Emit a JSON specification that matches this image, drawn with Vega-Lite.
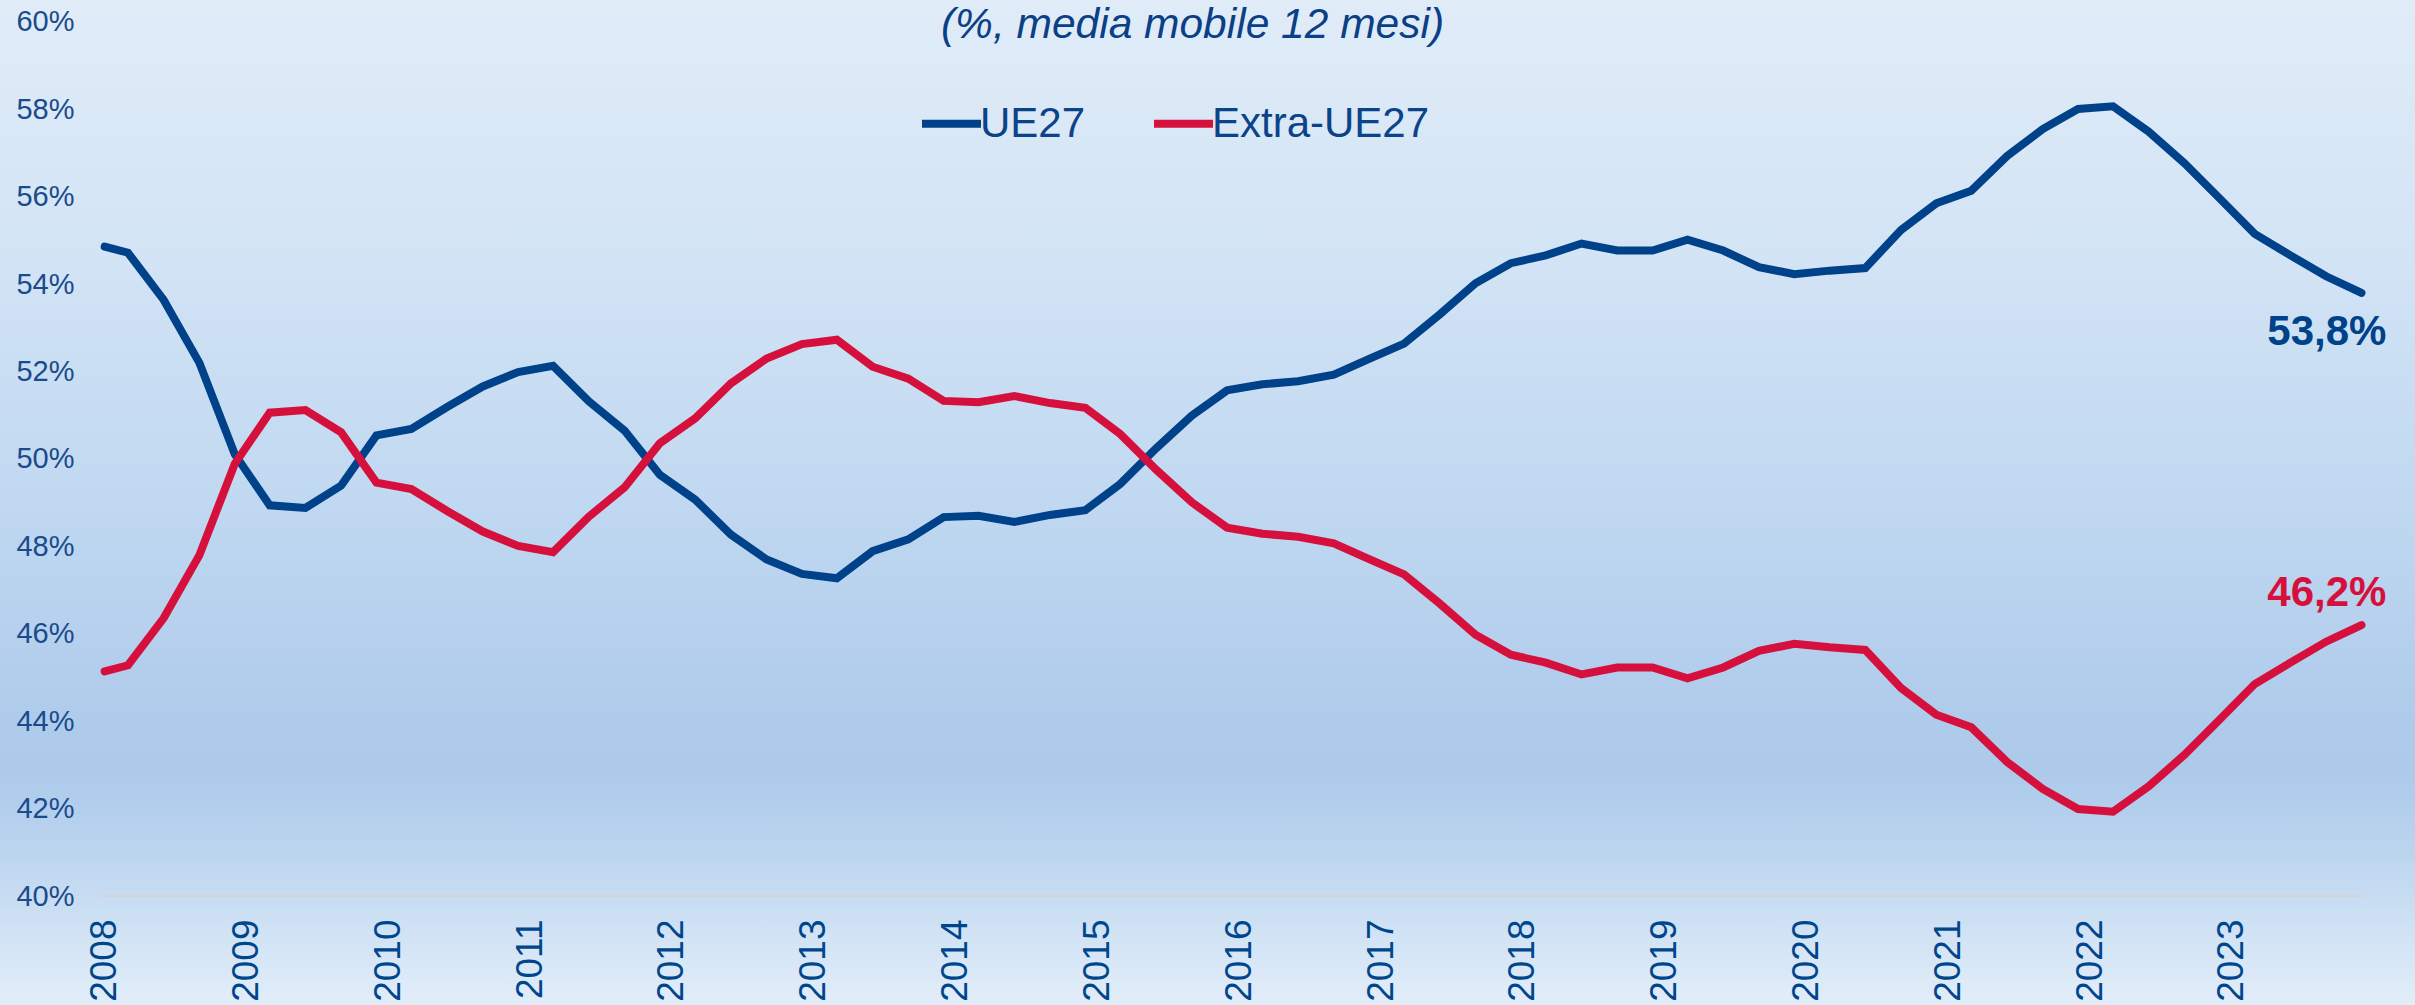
{
  "$schema": "https://vega.github.io/schema/vega-lite/v6.json",
  "width": 2415,
  "height": 1005,
  "autosize": "none",
  "padding": 0,
  "background": "#dce9f7",
  "config": {
    "view": {"stroke": null},
    "axis": {"grid": false, "domain": false, "ticks": false, "tickSize": 0, "zindex": 1},
    "font": "Liberation Sans"
  },
  "title": {
    "text": "(%, media mobile 12 mesi)",
    "orient": "top",
    "anchor": "middle",
    "frame": "group",
    "offset": -40,
    "baseline": "top",
    "dx": -15,
    "dy": 6,
    "font": "Liberation Sans",
    "fontSize": 42.5,
    "fontStyle": "italic",
    "fontWeight": "normal",
    "color": "#0b3f86"
  },
  "datasets": {
    "series": [
      {"date": "2008-01-01", "serie": "UE27", "valore": 54.86},
      {"date": "2008-03-01", "serie": "UE27", "valore": 54.72},
      {"date": "2008-06-01", "serie": "UE27", "valore": 53.64},
      {"date": "2008-09-01", "serie": "UE27", "valore": 52.20},
      {"date": "2008-12-01", "serie": "UE27", "valore": 50.11},
      {"date": "2009-03-01", "serie": "UE27", "valore": 48.94},
      {"date": "2009-06-01", "serie": "UE27", "valore": 48.88},
      {"date": "2009-09-01", "serie": "UE27", "valore": 49.39},
      {"date": "2009-12-01", "serie": "UE27", "valore": 50.54},
      {"date": "2010-03-01", "serie": "UE27", "valore": 50.69},
      {"date": "2010-06-01", "serie": "UE27", "valore": 51.19},
      {"date": "2010-09-01", "serie": "UE27", "valore": 51.66},
      {"date": "2010-12-01", "serie": "UE27", "valore": 51.99},
      {"date": "2011-03-01", "serie": "UE27", "valore": 52.13},
      {"date": "2011-06-01", "serie": "UE27", "valore": 51.32},
      {"date": "2011-09-01", "serie": "UE27", "valore": 50.65},
      {"date": "2011-12-01", "serie": "UE27", "valore": 49.64},
      {"date": "2012-03-01", "serie": "UE27", "valore": 49.07},
      {"date": "2012-06-01", "serie": "UE27", "valore": 48.27},
      {"date": "2012-09-01", "serie": "UE27", "valore": 47.70},
      {"date": "2012-12-01", "serie": "UE27", "valore": 47.37},
      {"date": "2013-03-01", "serie": "UE27", "valore": 47.27},
      {"date": "2013-06-01", "serie": "UE27", "valore": 47.89},
      {"date": "2013-09-01", "serie": "UE27", "valore": 48.16},
      {"date": "2013-12-01", "serie": "UE27", "valore": 48.67},
      {"date": "2014-03-01", "serie": "UE27", "valore": 48.70},
      {"date": "2014-06-01", "serie": "UE27", "valore": 48.56},
      {"date": "2014-09-01", "serie": "UE27", "valore": 48.72},
      {"date": "2014-12-01", "serie": "UE27", "valore": 48.83},
      {"date": "2015-03-01", "serie": "UE27", "valore": 49.43},
      {"date": "2015-06-01", "serie": "UE27", "valore": 50.24},
      {"date": "2015-09-01", "serie": "UE27", "valore": 50.99},
      {"date": "2015-12-01", "serie": "UE27", "valore": 51.57},
      {"date": "2016-03-01", "serie": "UE27", "valore": 51.71},
      {"date": "2016-06-01", "serie": "UE27", "valore": 51.78},
      {"date": "2016-09-01", "serie": "UE27", "valore": 51.93},
      {"date": "2016-12-01", "serie": "UE27", "valore": 52.29},
      {"date": "2017-03-01", "serie": "UE27", "valore": 52.64},
      {"date": "2017-06-01", "serie": "UE27", "valore": 53.31},
      {"date": "2017-09-01", "serie": "UE27", "valore": 54.02},
      {"date": "2017-12-01", "serie": "UE27", "valore": 54.48},
      {"date": "2018-03-01", "serie": "UE27", "valore": 54.66},
      {"date": "2018-06-01", "serie": "UE27", "valore": 54.93},
      {"date": "2018-09-01", "serie": "UE27", "valore": 54.77},
      {"date": "2018-12-01", "serie": "UE27", "valore": 54.77},
      {"date": "2019-03-01", "serie": "UE27", "valore": 55.02},
      {"date": "2019-06-01", "serie": "UE27", "valore": 54.77},
      {"date": "2019-09-01", "serie": "UE27", "valore": 54.39},
      {"date": "2019-12-01", "serie": "UE27", "valore": 54.23},
      {"date": "2020-03-01", "serie": "UE27", "valore": 54.31},
      {"date": "2020-06-01", "serie": "UE27", "valore": 54.37},
      {"date": "2020-09-01", "serie": "UE27", "valore": 55.24},
      {"date": "2020-12-01", "serie": "UE27", "valore": 55.85},
      {"date": "2021-03-01", "serie": "UE27", "valore": 56.14},
      {"date": "2021-06-01", "serie": "UE27", "valore": 56.93},
      {"date": "2021-09-01", "serie": "UE27", "valore": 57.55},
      {"date": "2021-12-01", "serie": "UE27", "valore": 58.01},
      {"date": "2022-03-01", "serie": "UE27", "valore": 58.07},
      {"date": "2022-06-01", "serie": "UE27", "valore": 57.49},
      {"date": "2022-09-01", "serie": "UE27", "valore": 56.77},
      {"date": "2022-12-01", "serie": "UE27", "valore": 55.96},
      {"date": "2023-03-01", "serie": "UE27", "valore": 55.15},
      {"date": "2023-06-01", "serie": "UE27", "valore": 54.66},
      {"date": "2023-09-01", "serie": "UE27", "valore": 54.18},
      {"date": "2023-12-01", "serie": "UE27", "valore": 53.80},
      {"date": "2008-01-01", "serie": "Extra-UE27", "valore": 45.14},
      {"date": "2008-03-01", "serie": "Extra-UE27", "valore": 45.28},
      {"date": "2008-06-01", "serie": "Extra-UE27", "valore": 46.36},
      {"date": "2008-09-01", "serie": "Extra-UE27", "valore": 47.80},
      {"date": "2008-12-01", "serie": "Extra-UE27", "valore": 49.89},
      {"date": "2009-03-01", "serie": "Extra-UE27", "valore": 51.06},
      {"date": "2009-06-01", "serie": "Extra-UE27", "valore": 51.12},
      {"date": "2009-09-01", "serie": "Extra-UE27", "valore": 50.61},
      {"date": "2009-12-01", "serie": "Extra-UE27", "valore": 49.46},
      {"date": "2010-03-01", "serie": "Extra-UE27", "valore": 49.31},
      {"date": "2010-06-01", "serie": "Extra-UE27", "valore": 48.81},
      {"date": "2010-09-01", "serie": "Extra-UE27", "valore": 48.34},
      {"date": "2010-12-01", "serie": "Extra-UE27", "valore": 48.01},
      {"date": "2011-03-01", "serie": "Extra-UE27", "valore": 47.87},
      {"date": "2011-06-01", "serie": "Extra-UE27", "valore": 48.68},
      {"date": "2011-09-01", "serie": "Extra-UE27", "valore": 49.35},
      {"date": "2011-12-01", "serie": "Extra-UE27", "valore": 50.36},
      {"date": "2012-03-01", "serie": "Extra-UE27", "valore": 50.93},
      {"date": "2012-06-01", "serie": "Extra-UE27", "valore": 51.73},
      {"date": "2012-09-01", "serie": "Extra-UE27", "valore": 52.30},
      {"date": "2012-12-01", "serie": "Extra-UE27", "valore": 52.63},
      {"date": "2013-03-01", "serie": "Extra-UE27", "valore": 52.73},
      {"date": "2013-06-01", "serie": "Extra-UE27", "valore": 52.11},
      {"date": "2013-09-01", "serie": "Extra-UE27", "valore": 51.84},
      {"date": "2013-12-01", "serie": "Extra-UE27", "valore": 51.33},
      {"date": "2014-03-01", "serie": "Extra-UE27", "valore": 51.30},
      {"date": "2014-06-01", "serie": "Extra-UE27", "valore": 51.44},
      {"date": "2014-09-01", "serie": "Extra-UE27", "valore": 51.28},
      {"date": "2014-12-01", "serie": "Extra-UE27", "valore": 51.17},
      {"date": "2015-03-01", "serie": "Extra-UE27", "valore": 50.57},
      {"date": "2015-06-01", "serie": "Extra-UE27", "valore": 49.76},
      {"date": "2015-09-01", "serie": "Extra-UE27", "valore": 49.01},
      {"date": "2015-12-01", "serie": "Extra-UE27", "valore": 48.43},
      {"date": "2016-03-01", "serie": "Extra-UE27", "valore": 48.29},
      {"date": "2016-06-01", "serie": "Extra-UE27", "valore": 48.22},
      {"date": "2016-09-01", "serie": "Extra-UE27", "valore": 48.07},
      {"date": "2016-12-01", "serie": "Extra-UE27", "valore": 47.71},
      {"date": "2017-03-01", "serie": "Extra-UE27", "valore": 47.36},
      {"date": "2017-06-01", "serie": "Extra-UE27", "valore": 46.69},
      {"date": "2017-09-01", "serie": "Extra-UE27", "valore": 45.98},
      {"date": "2017-12-01", "serie": "Extra-UE27", "valore": 45.52},
      {"date": "2018-03-01", "serie": "Extra-UE27", "valore": 45.34},
      {"date": "2018-06-01", "serie": "Extra-UE27", "valore": 45.07},
      {"date": "2018-09-01", "serie": "Extra-UE27", "valore": 45.23},
      {"date": "2018-12-01", "serie": "Extra-UE27", "valore": 45.23},
      {"date": "2019-03-01", "serie": "Extra-UE27", "valore": 44.98},
      {"date": "2019-06-01", "serie": "Extra-UE27", "valore": 45.23},
      {"date": "2019-09-01", "serie": "Extra-UE27", "valore": 45.61},
      {"date": "2019-12-01", "serie": "Extra-UE27", "valore": 45.77},
      {"date": "2020-03-01", "serie": "Extra-UE27", "valore": 45.69},
      {"date": "2020-06-01", "serie": "Extra-UE27", "valore": 45.63},
      {"date": "2020-09-01", "serie": "Extra-UE27", "valore": 44.76},
      {"date": "2020-12-01", "serie": "Extra-UE27", "valore": 44.15},
      {"date": "2021-03-01", "serie": "Extra-UE27", "valore": 43.86},
      {"date": "2021-06-01", "serie": "Extra-UE27", "valore": 43.07},
      {"date": "2021-09-01", "serie": "Extra-UE27", "valore": 42.45},
      {"date": "2021-12-01", "serie": "Extra-UE27", "valore": 41.99},
      {"date": "2022-03-01", "serie": "Extra-UE27", "valore": 41.93},
      {"date": "2022-06-01", "serie": "Extra-UE27", "valore": 42.51},
      {"date": "2022-09-01", "serie": "Extra-UE27", "valore": 43.23},
      {"date": "2022-12-01", "serie": "Extra-UE27", "valore": 44.04},
      {"date": "2023-03-01", "serie": "Extra-UE27", "valore": 44.85},
      {"date": "2023-06-01", "serie": "Extra-UE27", "valore": 45.34},
      {"date": "2023-09-01", "serie": "Extra-UE27", "valore": 45.82},
      {"date": "2023-12-01", "serie": "Extra-UE27", "valore": 46.20}
    ]
  },
  "layer": [
    {
      "data": {"values": [{}]},
      "mark": {
        "type": "rect",
        "color": {
          "gradient": "linear",
          "x1": 0, "y1": 0, "x2": 0, "y2": 1,
          "stops": [
            {"offset": 0.0, "color": "#e0ecf8"},
            {"offset": 0.25, "color": "#d3e4f5"},
            {"offset": 0.5, "color": "#c0d8f1"},
            {"offset": 0.72, "color": "#afcbeb"},
            {"offset": 0.77, "color": "#adcaeb"},
            {"offset": 0.85, "color": "#bcd5ef"},
            {"offset": 0.89, "color": "#c7dcf2"},
            {"offset": 0.95, "color": "#d6e6f6"},
            {"offset": 1.0, "color": "#e2edf9"}
          ]
        }
      },
      "encoding": {}
    },
    {
      "data": {"name": "series"},
      "mark": {"type": "line", "strokeWidth": 8, "strokeCap": "round", "strokeJoin": "miter", "clip": true},
      "encoding": {
        "x": {
          "field": "date",
          "type": "temporal",
          "scale": {
            "type": "utc",
            "domain": [
              {"year": 2007, "month": 4, "date": 6, "hours": 8, "utc": true},
              {"year": 2024, "month": 4, "date": 16, "hours": 22, "utc": true}
            ]
          },
          "axis": {
            "title": null,
            "orient": "bottom",
            "offset": -109,
            "zindex": 1,
            "values": [
              {"year": 2008, "utc": true}, {"year": 2009, "utc": true}, {"year": 2010, "utc": true},
              {"year": 2011, "utc": true}, {"year": 2012, "utc": true}, {"year": 2013, "utc": true},
              {"year": 2014, "utc": true}, {"year": 2015, "utc": true}, {"year": 2016, "utc": true},
              {"year": 2017, "utc": true}, {"year": 2018, "utc": true}, {"year": 2019, "utc": true},
              {"year": 2020, "utc": true}, {"year": 2021, "utc": true}, {"year": 2022, "utc": true},
              {"year": 2023, "utc": true}
            ],
            "format": "%Y",
            "labelAngle": 270,
            "labelPadding": 23,
            "labelFontSize": 37,
            "labelFont": "Liberation Sans",
            "labelColor": "#00468c",
            "labelOverlap": false,
            "labelBound": false,
            "labelFlush": false
          }
        },
        "y": {
          "field": "valore",
          "type": "quantitative",
          "scale": {"domain": [37.506, 60.503], "nice": false, "zero": false},
          "axis": {
            "title": null,
            "orient": "left",
            "offset": -74,
            "zindex": 1,
            "values": [40, 42, 44, 46, 48, 50, 52, 54, 56, 58, 60],
            "labelExpr": "datum.value + '%'",
            "labelPadding": 0,
            "labelFontSize": 29,
            "labelFont": "Liberation Sans",
            "labelColor": "#1a4b8c",
            "labelOverlap": false,
            "labelBound": false,
            "labelFlush": false
          }
        },
        "color": {
          "field": "serie",
          "type": "nominal",
          "scale": {"domain": ["UE27", "Extra-UE27"], "range": ["#00428a", "#d6103d"]},
          "legend": {
            "title": null,
            "orient": "none",
            "legendX": 918,
            "legendY": 90,
            "direction": "horizontal",
            "symbolType": "stroke",
            "symbolSize": 3481,
            "symbolStrokeWidth": 8,
            "labelFontSize": 42,
            "labelFont": "Liberation Sans",
            "labelColor": "#0b4389",
            "labelLimit": 0,
            "labelOffset": -5,
            "columnPadding": 52,
            "padding": 0
          }
        }
      }
    },
    {
      "data": {"values": [{"date": "2007-12-19", "date_fine": "2023-12-07", "valore": 40}]},
      "mark": {"type": "rule", "color": "#d4d4d4", "strokeWidth": 2},
      "encoding": {
        "x": {"field": "date", "type": "temporal"},
        "x2": {"field": "date_fine"},
        "y": {"field": "valore", "type": "quantitative"}
      }
    },
    {
      "data": {"values": [{"date": "2023-12-01", "valore": 53.8, "etichetta": "53,8%"}]},
      "mark": {"type": "text", "align": "right", "baseline": "alphabetic", "dx": 25, "dy": 52, "fontSize": 42, "fontWeight": "bold", "font": "Liberation Sans", "color": "#00428a"},
      "encoding": {
        "x": {"field": "date", "type": "temporal"},
        "y": {"field": "valore", "type": "quantitative"},
        "text": {"field": "etichetta"}
      }
    },
    {
      "data": {"values": [{"date": "2023-12-01", "valore": 46.2, "etichetta": "46,2%"}]},
      "mark": {"type": "text", "align": "right", "baseline": "alphabetic", "dx": 25, "dy": -19, "fontSize": 42, "fontWeight": "bold", "font": "Liberation Sans", "color": "#d6103d"},
      "encoding": {
        "x": {"field": "date", "type": "temporal"},
        "y": {"field": "valore", "type": "quantitative"},
        "text": {"field": "etichetta"}
      }
    }
  ]
}
